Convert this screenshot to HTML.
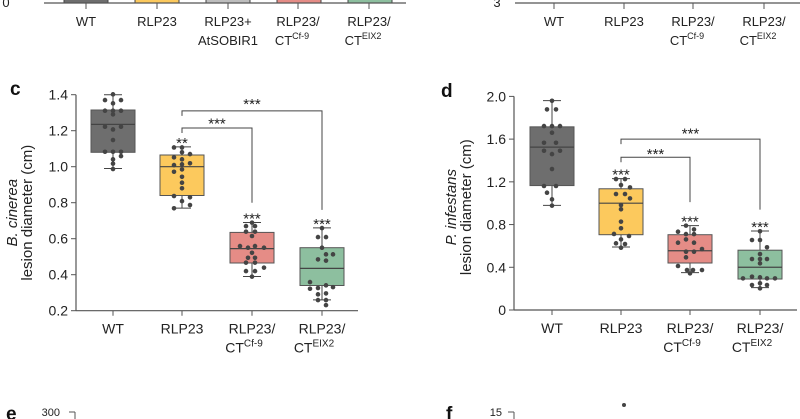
<!DOCTYPE html>
<html><head><meta charset="utf-8"><style>
html,body{margin:0;padding:0;background:#fff;}
svg{display:block;font-family:"Liberation Sans",sans-serif;}
</style></head><body>
<svg id="fig" width="800" height="419" viewBox="0 0 800 419" xmlns="http://www.w3.org/2000/svg">
<g fill="none">
  <rect x="64" y="-10" width="44" height="13" fill="#6e6e6e" stroke="#444"/>
  <rect x="135" y="-10" width="44" height="13" fill="#fcc95d" stroke="#444"/>
  <rect x="206" y="-10" width="44" height="13" fill="#bdbdbd" stroke="#444"/>
  <rect x="277" y="-10" width="44" height="13" fill="#e58c86" stroke="#444"/>
  <rect x="348" y="-10" width="44" height="13" fill="#8dbf9f" stroke="#444"/>
  <line x1="44" y1="3" x2="406" y2="3" stroke="#555" stroke-width="1.2"/>
  <g stroke="#555"><line x1="86" y1="3" x2="86" y2="9"/><line x1="157" y1="3" x2="157" y2="9"/><line x1="228" y1="3" x2="228" y2="9"/><line x1="298" y1="3" x2="298" y2="9"/><line x1="369" y1="3" x2="369" y2="9"/></g>
  <g fill="#222" font-size="13" text-anchor="middle">
    <text x="6" y="7">0</text>
    <text x="86" y="26">WT</text><text x="157" y="26">RLP23</text>
    <text x="228" y="26">RLP23+</text><text x="228" y="45">AtSOBIR1</text>
    <text x="298" y="26">RLP23/</text><text x="292" y="45">CT<tspan font-size="9" dy="-6">Cf-9</tspan></text>
    <text x="369" y="26">RLP23/</text><text x="363" y="45">CT<tspan font-size="9" dy="-6">EIX2</tspan></text>
  </g>
</g>
<g>
  <line x1="515" y1="3" x2="800" y2="3" stroke="#555" stroke-width="1.2"/>
  <g stroke="#555"><line x1="554" y1="3" x2="554" y2="9"/><line x1="624" y1="3" x2="624" y2="9"/><line x1="693" y1="3" x2="693" y2="9"/><line x1="764" y1="3" x2="764" y2="9"/></g>
  <g fill="#222" font-size="13" text-anchor="middle">
    <text x="497" y="7">3</text>
    <text x="554" y="26">WT</text><text x="624" y="26">RLP23</text>
    <text x="693" y="26">RLP23/</text><text x="687" y="45">CT<tspan font-size="9" dy="-6">Cf-9</tspan></text>
    <text x="764" y="26">RLP23/</text><text x="758" y="45">CT<tspan font-size="9" dy="-6">EIX2</tspan></text>
  </g>
</g>
<g>
  <text x="6" y="420" font-size="19" font-weight="bold" fill="#111">e</text>
  <text x="60" y="416" font-size="11" text-anchor="end" fill="#222">300</text>
  <line x1="69" y1="412" x2="75" y2="412" stroke="#555"/><line x1="75" y1="412" x2="75" y2="419" stroke="#555"/>
</g>
<g>
  <text x="446" y="420" font-size="19" font-weight="bold" fill="#111">f</text>
  <text x="502" y="416" font-size="11" text-anchor="end" fill="#222">15</text>
  <line x1="508" y1="412" x2="514" y2="412" stroke="#555"/><line x1="514" y1="412" x2="514" y2="419" stroke="#555"/>
  <circle cx="624" cy="405" r="2" fill="#444"/>
</g>
<g id="pc"></g>
<g id="pd"></g>
</svg>
<script>
const categories = ["WT","RLP23","RLP23/","RLP23/"];
const catSup = ["","","Cf-9","EIX2"];
const colors = ["#6e6e6e","#fcc95d","#e58c86","#8dbf9f"];
// Panel c data
const cWhiskLo = [0.99,0.77,0.39,0.26];
const cQ1 = [1.08,0.84,0.465,0.34];
const cMed = [1.235,1.0,0.545,0.435];
const cQ3 = [1.315,1.065,0.635,0.55];
const cWhiskHi = [1.40,1.11,0.69,0.66];
const cStars = ["","**","***","***"];
const cTicks = [0.2,0.4,0.6,0.8,1.0,1.2,1.4];
const cPts = [
 [1.37,1.402,1.37,1.352,1.311,1.311,1.311,1.291,1.222,1.207,1.222,1.148,1.083,1.083,1.083,1.041,1.059,1.017,0.987],
 [1.107,1.107,1.080,1.052,1.070,1.041,1.009,1.013,1.019,0.985,0.972,0.944,0.911,0.880,0.837,0.830,0.809,0.787,0.769],
 [0.689,0.670,0.670,0.639,0.639,0.615,0.559,0.550,0.559,0.550,0.522,0.494,0.494,0.467,0.467,0.439,0.420,0.420,0.389],
 [0.659,0.609,0.609,0.550,0.485,0.478,0.513,0.513,0.359,0.326,0.341,0.331,0.322,0.296,0.291,0.259,0.259,0.231]
];
const cJit = [
 [-8,0,8,0,-8,0,8,0,-8,0,8,0,-8,0,8,0,8,0,0],
 [-8,0,0,-8,8,0,-8,0,8,0,-8,0,0,0,-8,8,0,8,-8],
 [0,-6,3,-6,3,0,-12,-4,3,12,0,-4,3,-6,3,12,-6,3,0],
 [0,-4,4,0,-4,4,11,4,-12,-4,4,11,-12,4,-4,4,-4,4]
];
const cBrackets = [[1,2,1.215,0.80,1.245],[1,3,1.31,0.76,1.355]];
// Panel d data
const dWhiskLo = [0.98,0.59,0.35,0.21];
const dQ1 = [1.165,0.705,0.44,0.29];
const dMed = [1.525,1.0,0.555,0.40];
const dQ3 = [1.715,1.135,0.705,0.56];
const dWhiskHi = [1.96,1.23,0.79,0.74];
const dStars = ["","***","***","***"];
const dTicks = [0,0.4,0.8,1.2,1.6,2.0];
const dPts = [
 [1.959,1.878,1.878,1.722,1.722,1.722,1.660,1.566,1.566,1.491,1.460,1.491,1.320,1.161,1.161,1.098,1.036,0.977],
 [1.226,1.226,1.170,1.148,1.086,1.086,1.045,0.983,0.943,0.827,0.765,0.712,0.693,0.661,0.618,0.624,0.583],
 [0.790,0.755,0.733,0.711,0.711,0.661,0.630,0.630,0.571,0.546,0.546,0.493,0.412,0.374,0.374,0.374,0.343],
 [0.737,0.655,0.655,0.587,0.524,0.477,0.477,0.477,0.437,0.312,0.306,0.296,0.296,0.296,0.250,0.234,0.234,0.203]
];
const dJit = [
 [0,-5,4,-8,0,8,0,-8,4,-8,0,8,0,-8,4,-5,0,0],
 [-5,4,0,9,-5,4,9,0,0,0,0,-7,8,0,4,-5,0],
 [-4,4,-12,-4,4,-4,-12,4,12,-4,4,-4,-12,-3,3,12,0],
 [0,-8,0,7,0,-8,0,7,0,-8,0,-17,7,15,0,-8,7,0]
];
const dBrackets = [[1,2,1.43,1.01,1.47],[1,3,1.60,0.94,1.66]];

const NS="http://www.w3.org/2000/svg";
function mk(parent,tag,attrs,text){const e=document.createElementNS(NS,tag);for(const k in attrs)e.setAttribute(k,attrs[k]);if(text!==undefined)e.textContent=text;parent.appendChild(e);return e;}

function drawPanel(g,cfg){
  const y=v=>cfg.y0-(v-cfg.vmin)*cfg.ppu;
  const x=i=>cfg.xs[i];
  const ax=mk(g,'line',{x1:cfg.axX,y1:y(cfg.vmax),x2:cfg.axX,y2:cfg.y0,stroke:'#555','stroke-width':1.2});
  
  
  const xa=mk(g,'line',{x1:cfg.axX,y1:cfg.y0,x2:cfg.axEnd,y2:cfg.y0,stroke:'#555','stroke-width':1.2});
  
  
  cfg.ticks.forEach(t=>{
    mk(g,'line',{x1:cfg.axX-5,y1:y(t),x2:cfg.axX,y2:y(t),stroke:'#555'});
    const tl=mk(g,'text',{x:cfg.axX-8,y:y(t)+5,'font-size':14,'text-anchor':'end',fill:'#222'},cfg.fmt(t));
    
    
  });
  const t1=mk(g,'text',{x:cfg.panelX,y:cfg.panelY,'font-size':19,'font-weight':'bold',fill:'#111'},cfg.letter);
  
  
  const cy=(y(cfg.vmax)+cfg.y0)/2+cfg.cyOff;
  const yl=mk(g,'text',{transform:`translate(${cfg.ylx},${cy}) rotate(-90)`,'font-size':15,'text-anchor':'middle',fill:'#222'});
  
  
  mk(yl,'tspan',{x:0,dy:0,'font-style':'italic'},cfg.ylabel1);
  mk(yl,'tspan',{x:0,dy:15},'lesion diameter (cm)');
  categories.forEach((c,i)=>{
    const bw=44,xc=x(i);
    mk(g,'line',{x1:xc,y1:cfg.y0,x2:xc,y2:cfg.y0+5,stroke:'#555'});
    const w=mk(g,'line',{x1:xc,y1:y(cfg.hi[i]),x2:xc,y2:y(cfg.lo[i]),stroke:'#444','stroke-width':1});
    
    
    mk(g,'line',{x1:xc-9,y1:y(cfg.hi[i]),x2:xc+9,y2:y(cfg.hi[i]),stroke:'#444'});
    mk(g,'line',{x1:xc-9,y1:y(cfg.lo[i]),x2:xc+9,y2:y(cfg.lo[i]),stroke:'#444'});
    const b=mk(g,'rect',{x:xc-bw/2,y:y(cfg.q3[i]),width:bw,height:y(cfg.q1[i])-y(cfg.q3[i]),fill:colors[i],stroke:'#555','stroke-width':1});
    
    
    mk(g,'line',{x1:xc-bw/2,y1:y(cfg.med[i]),x2:xc+bw/2,y2:y(cfg.med[i]),stroke:'#444','stroke-width':1.2});
    cfg.pts[i].forEach((v,j)=>{
      const p=mk(g,'circle',{cx:xc+(cfg.jit[i][j]||0),cy:y(v),r:2.3,fill:'#444'});
      
      
    });
    if(cfg.stars[i]){
      const s=mk(g,'text',{x:xc,y:y(cfg.hi[i])+1,'font-size':15,'text-anchor':'middle',fill:'#222'},cfg.stars[i]);
      
      
    }
    const l=mk(g,'text',{x:xc,y:cfg.y0+23,'font-size':14,'text-anchor':'middle',fill:'#222'},c);
    
    
    if(catSup[i]){
      const l2=mk(g,'text',{x:xc-8,y:cfg.y0+42,'font-size':14,'text-anchor':'middle',fill:'#222'},'CT');
      mk(l2,'tspan',{'font-size':10,dy:-6},catSup[i]);
    }
  });
  cfg.br.forEach(b=>{
    const [a,c,top,bot,st]=b;
    const p=mk(g,'path',{d:`M${x(a)},${y(top)+5} V${y(top)} H${x(c)} V${y(bot)}`,fill:'none',stroke:'#444','stroke-width':1});
    
    
    mk(g,'text',{x:(x(a)+x(c))/2,y:y(st)+6,'font-size':15,'text-anchor':'middle',fill:'#222'},'***');
  });
}
drawPanel(document.getElementById('pc'),{y0:310.7,vmin:0.2,vmax:1.4,ppu:180,axX:76,axEnd:358,xs:[113,182,252,322],
  ticks:cTicks,fmt:t=>t.toFixed(1),letter:'c',panelX:10,panelY:95,ylx:17,cyOff:10,ylabel1:'B. cinerea',
  lo:cWhiskLo,q1:cQ1,med:cMed,q3:cQ3,hi:cWhiskHi,pts:cPts,jit:cJit,stars:cStars,br:cBrackets});
drawPanel(document.getElementById('pd'),{y0:310,vmin:0,vmax:2.0,ppu:106.8,axX:514,axEnd:797,xs:[552,621,690,760],
  ticks:dTicks,fmt:t=>t===0?'0':t.toFixed(1),letter:'d',panelX:441,panelY:97,ylx:456,cyOff:4,ylabel1:'P. infestans',
  lo:dWhiskLo,q1:dQ1,med:dMed,q3:dQ3,hi:dWhiskHi,pts:dPts,jit:dJit,stars:dStars,br:dBrackets});
</script>
</body></html>
